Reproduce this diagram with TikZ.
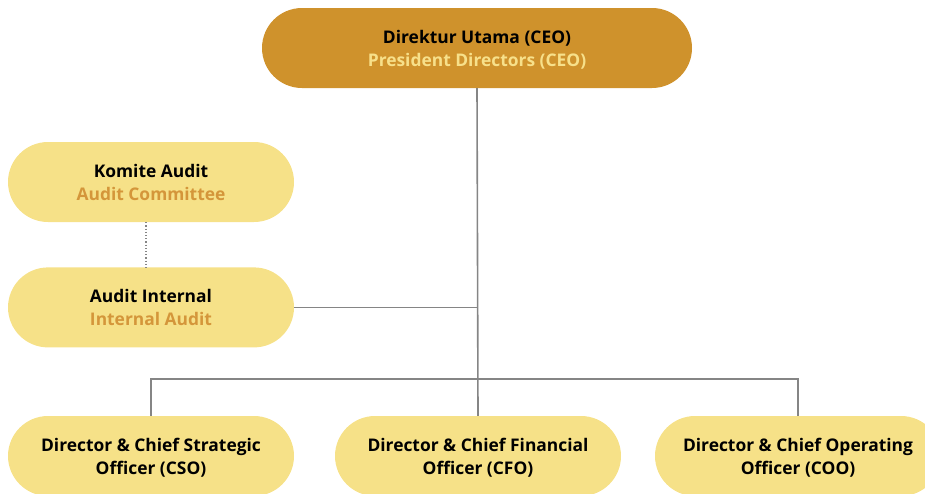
\documentclass[tikz,border=0pt]{standalone}
\usepackage{fontspec}
\setmainfont{Open Sans}
\usepackage{xcolor}
\usepackage{tikz}
\usetikzlibrary{positioning,calc}

\definecolor{ceofill}{HTML}{CF922C}
\definecolor{ceosub}{HTML}{F7E08A}
\definecolor{boxfill}{HTML}{F6E188}
\definecolor{boxsub}{HTML}{D4963A}
\definecolor{linegray}{HTML}{858585}

\begin{document}
\begin{tikzpicture}[x=1pt, y=-1pt, node distance=45pt,
				unit/.style={rectangle, rounded corners=40pt, minimum width=286pt, minimum height=80pt, fill=boxfill, align=center, font=\fontsize{17.4}{23}\selectfont\bfseries, inner sep=0pt, text depth=-6pt},
				ceobox/.style={unit, fill=ceofill, minimum width=430pt},
				link/.style={draw=linegray, line width=1.6pt},
				dotlink/.style={draw=linegray, line width=1.2pt, dotted}]
				
				\useasboundingbox (0,0) rectangle (925,493);
				
				\node[ceobox] (ceo) at (477,48) {Direktur Utama (CEO)\\\color{ceosub}President Directors (CEO)};
				\node[unit] (komite) at (151,182) {Komite Audit\\\color{boxsub}Audit Committee};
				\node[unit, below=of komite] (internal) {Audit Internal\\\color{boxsub}Internal Audit};
				
				\node[unit] (cso) at (151,456) {Director \& Chief Strategic\\Officer (CSO)};
				\node[unit] (cfo) at (478,456) {Director \& Chief Financial\\Officer (CFO)};
				\node[unit] (coo) at (798,456) {Director \& Chief Operating\\Officer (COO)};
				
				\coordinate (bar) at (477,379);
				
				\draw[link] (ceo.south) -- (cfo.north);
				\draw[link] (internal.east) -- (internal.east -| ceo.south);
				\draw[link] (cso.north) -- (cso.north |- bar) -- (coo.north |- bar) -- (coo.north);
				\draw[dotlink] ([xshift=-5pt]komite.south) -- ([xshift=-5pt]internal.north);
				
			\end{tikzpicture}
\end{document}
